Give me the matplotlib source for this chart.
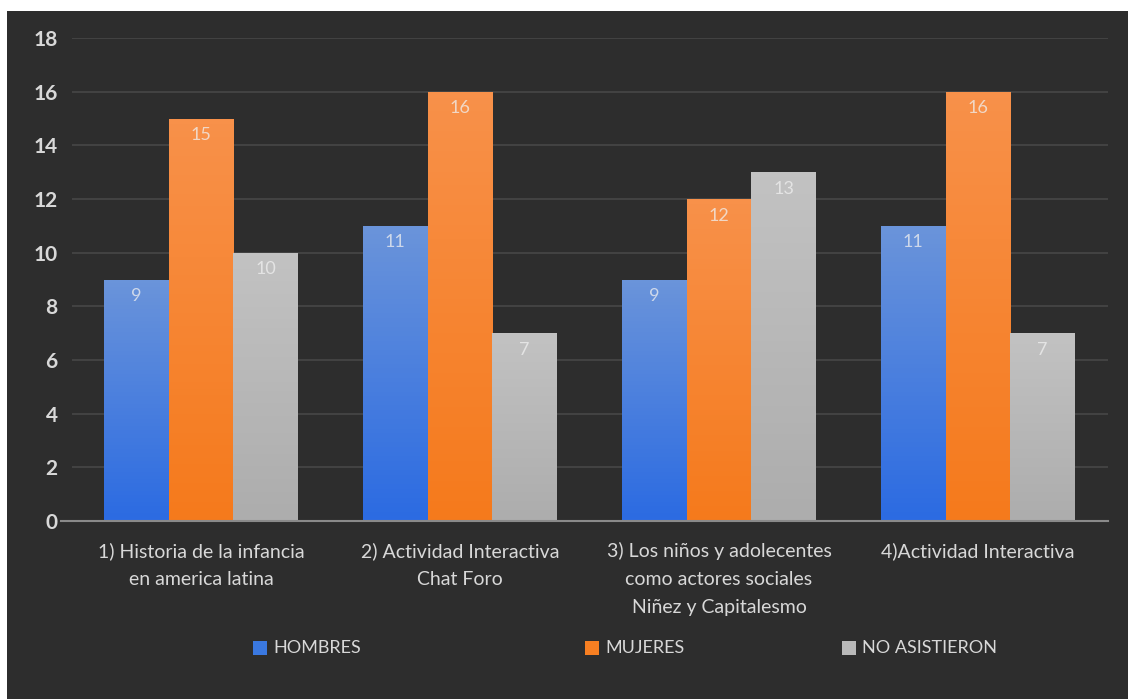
import numpy as np
import matplotlib
matplotlib.use("Agg")
import matplotlib.pyplot as plt
from matplotlib.colors import LinearSegmentedColormap
from matplotlib.patches import Rectangle

plt.rcParams["font.family"] = ["Lato", "DejaVu Sans"]

categories = [
    "1) Historia de la infancia\nen america latina",
    "2) Actividad Interactiva\nChat Foro",
    "3) Los niños y adolecentes\ncomo actores sociales\nNiñez y Capitalesmo",
    "4)Actividad Interactiva",
]
series_names = ["HOMBRES", "MUJERES", "NO ASISTIERON"]
hombres = [9, 11, 9, 11]
mujeres = [15, 16, 12, 16]
no_asistieron = [10, 7, 13, 7]
yticks = [0, 2, 4, 6, 8, 10, 12, 14, 16, 18]

# (top colour, bottom colour) for each series
grads = [("#6a94da", "#2c6be2"), ("#f8914a", "#f57a1c"), ("#c2c2c2", "#adadad")]
legend_colors = ["#3a78e0", "#f77f22", "#b9b9b9"]

bg = "#2d2d2d"
fig = plt.figure(figsize=(11.28, 6.99), dpi=100, facecolor="white")
fig.patches.append(Rectangle((7 / 1128, 0), 1, 1 - 11 / 699, transform=fig.transFigure,
                             facecolor=bg, edgecolor="none", zorder=-10))

ax = fig.add_axes([71.5 / 1128, 1 - 521 / 699, 1036 / 1128, 483 / 699])
ax.set_facecolor("none")
ax.set_zorder(2)

x = np.arange(len(categories))
w = 0.25
data = [hombres, mujeres, no_asistieron]
for i, vals in enumerate(data):
    bars = ax.bar(x + (i - 1) * w, vals, w, color=legend_colors[i], zorder=2)
    cmap = LinearSegmentedColormap.from_list("g%d" % i, [grads[i][1], grads[i][0]])
    for b, v in zip(bars, vals):
        x0, bw = b.get_x(), b.get_width()
        grad = np.linspace(0, 1, 64).reshape(-1, 1)
        im = ax.imshow(grad, cmap=cmap, aspect="auto", origin="lower",
                       extent=[x0, x0 + bw, 0, v], zorder=3)
        im.set_clip_path(b)
        ax.text(b.get_x() + bw / 2, v - 0.62, str(v), ha="center", va="center",
                color="#f0f0f0", alpha=0.75, fontsize=13, zorder=4)

ax.set_xlim(-0.5, 3.5)
ax.set_ylim(0, 18)
ax.set_yticks(yticks)
ax.grid(axis="y", color="#474747", linewidth=1.2, zorder=1)
ax.tick_params(axis="y", length=0, pad=10, labelsize=15, labelcolor="#d8d8d8")
ax.tick_params(axis="x", length=0, pad=15, labelsize=14, labelcolor="#d8d8d8")
for lbl in ax.get_yticklabels():
    lbl.set_fontweight("bold")
ax.set_xticks(x)
ax.set_xticklabels(categories, linespacing=1.8)
for s in ["top", "right", "left"]:
    ax.spines[s].set_visible(False)
ax.spines["bottom"].set_color("#8a8a8a")
ax.spines["bottom"].set_linewidth(1.5)
ax.spines["bottom"].set_bounds(-0.54, 3.5)
ax.spines["bottom"].set_zorder(5)

# legend
leg_x = [253, 585, 842]
leg_y = 648
for lx, name, col in zip(leg_x, series_names, legend_colors):
    fig.patches.append(Rectangle((lx / 1128, 1 - (leg_y + 7) / 699), 14 / 1128, 14 / 699,
                                 transform=fig.transFigure, facecolor=col, edgecolor="none"))
    fig.text((lx + 20) / 1128, 1 - leg_y / 699, name, ha="left", va="center",
             fontsize=13, color="#d8d8d8")

fig.savefig("out.png", dpi=100, facecolor=fig.get_facecolor())
